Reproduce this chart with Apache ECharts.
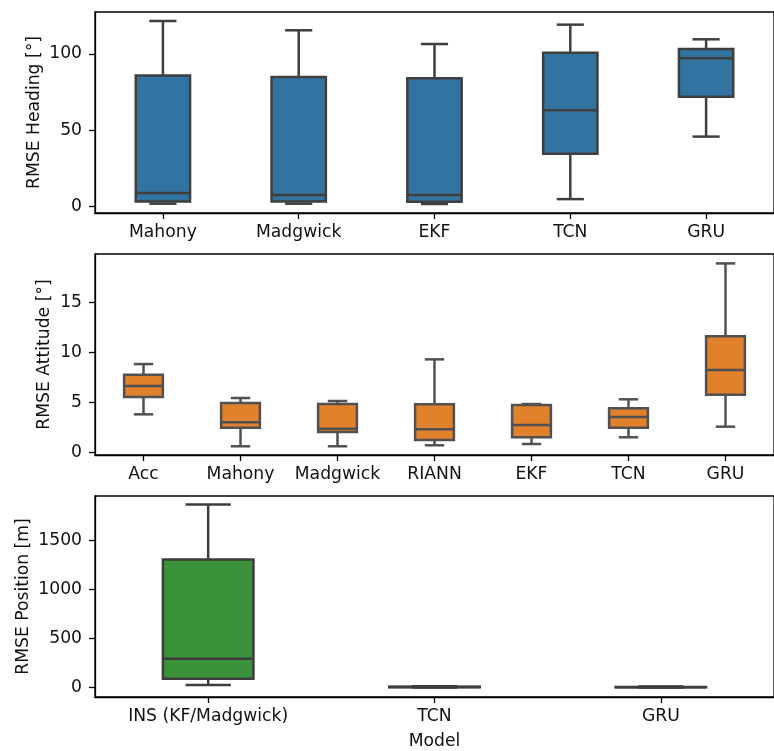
<!DOCTYPE html>
<html>
<head>
<meta charset="utf-8">
<script src="https://cdn.jsdelivr.net/npm/echarts@6/dist/echarts.min.js"></script>
<style>
  html, body { margin: 0; padding: 0; background: #fff; }
  #chart { width: 774px; height: 751px; }
</style>
</head>
<body>
<div id="chart"></div>
<script>
// Box statistics per model: [lower whisker, Q1, median, Q3, upper whisker]
const headingModels = ['Mahony', 'Madgwick', 'EKF', 'TCN', 'GRU'];
const headingBoxes = [
  [1.8, 3.3, 8.8, 85.8, 121.6],
  [1.8, 3.3, 7.5, 84.9, 115.5],
  [1.6, 3.1, 7.5, 84.1, 106.5],
  [4.8, 34.5, 63.1, 100.8, 119.2],
  [45.8, 72.0, 97.2, 103.3, 109.6]
];
const headingTicks = [0, 50, 100];

const attitudeModels = ['Acc', 'Mahony', 'Madgwick', 'RIANN', 'EKF', 'TCN', 'GRU'];
const attitudeBoxes = [
  [3.79, 5.52, 6.62, 7.75, 8.81],
  [0.60, 2.46, 2.99, 4.92, 5.42],
  [0.60, 2.03, 2.36, 4.82, 5.12],
  [0.70, 1.23, 2.30, 4.79, 9.28],
  [0.83, 1.50, 2.72, 4.72, 4.82],
  [1.50, 2.46, 3.52, 4.39, 5.29],
  [2.56, 5.75, 8.21, 11.58, 18.86]
];
const attitudeTicks = [0, 5, 10, 15];

const positionModels = ['INS (KF/Madgwick)', 'TCN', 'GRU'];
const positionBoxes = [
  [27, 91, 295, 1305, 1864],
  [2, 4, 6, 9, 14],
  [2, 4, 5, 8, 13]
];
const positionTicks = [0, 500, 1000, 1500];

const FONT = 'DejaVu Sans';
const FS = 17.2;
const TEXT = '#111';

function boxRenderer(fill, stroke) {
  return function (params, api) {
    const cat = api.value(0);
    const band = api.size([1, 0])[0];
    const half = band * 0.4 / 2;
    const capHalf = half / 2;
    const pLow = api.coord([cat, api.value(1)]);
    const pQ1 = api.coord([cat, api.value(2)]);
    const pMed = api.coord([cat, api.value(3)]);
    const pQ3 = api.coord([cat, api.value(4)]);
    const pHigh = api.coord([cat, api.value(5)]);
    const x = pQ1[0];
    const lw = 2.5;
    const ls = { stroke: stroke, lineWidth: lw, fill: null };
    return {
      type: 'group',
      children: [
        { type: 'line', shape: { x1: x, y1: pQ1[1], x2: x, y2: pLow[1] }, style: ls },
        { type: 'line', shape: { x1: x, y1: pQ3[1], x2: x, y2: pHigh[1] }, style: ls },
        { type: 'line', shape: { x1: x - capHalf, y1: pLow[1], x2: x + capHalf, y2: pLow[1] }, style: ls },
        { type: 'line', shape: { x1: x - capHalf, y1: pHigh[1], x2: x + capHalf, y2: pHigh[1] }, style: ls },
        {
          type: 'rect',
          shape: { x: x - half, y: pQ3[1], width: half * 2, height: pQ1[1] - pQ3[1] },
          style: { fill: fill, stroke: stroke, lineWidth: lw }
        },
        { type: 'line', shape: { x1: x - half, y1: pMed[1], x2: x + half, y2: pMed[1] }, style: ls }
      ]
    };
  };
}

function toData(boxes) {
  return boxes.map((b, i) => [i].concat(b));
}

const gridCommon = { left: 95, width: 690, show: true, borderColor: '#000', borderWidth: 1.3, backgroundColor: 'transparent' };

function xAxisFor(idx, models, withName) {
  const ax = {
    type: 'category',
    gridIndex: idx,
    data: models,
    boundaryGap: true,
    axisLine: { show: true, onZero: false, lineStyle: { color: '#000', width: 1.3 } },
    axisTick: { show: true, alignWithLabel: true, length: 6, lineStyle: { color: '#000', width: 1.3 } },
    axisLabel: { fontFamily: FONT, fontSize: FS, color: TEXT, margin: 11, interval: 0 },
    splitLine: { show: false }
  };
  if (withName) {
    ax.name = 'Model';
    ax.nameLocation = 'middle';
    ax.nameGap = 36;
    ax.nameMoveOverlap = false;
    ax.nameTextStyle = { fontFamily: FONT, fontSize: FS, color: TEXT };
  }
  return ax;
}

function yAxisFor(idx, name, min, max, ticks, gap) {
  return {
    type: 'value',
    gridIndex: idx,
    min: min,
    max: max,
    name: name,
    nameLocation: 'middle',
    nameGap: gap,
    nameMoveOverlap: false,
    nameTextStyle: { fontFamily: FONT, fontSize: FS, color: TEXT },
    axisLine: { show: true, onZero: false, lineStyle: { color: '#000', width: 1.3 } },
    axisTick: { show: true, length: 6, customValues: ticks, lineStyle: { color: '#000', width: 1.3 } },
    axisLabel: {
      fontFamily: FONT, fontSize: FS, color: TEXT, margin: 13, customValues: ticks,
      formatter: (v) => String(v)
    },
    splitLine: { show: false }
  };
}

const option = {
  animation: false,
  backgroundColor: '#fff',
  grid: [
    Object.assign({ top: 12, height: 201 }, gridCommon),
    Object.assign({ top: 254, height: 201 }, gridCommon),
    Object.assign({ top: 496, height: 201 }, gridCommon)
  ],
  xAxis: [
    xAxisFor(0, headingModels, false),
    xAxisFor(1, attitudeModels, false),
    xAxisFor(2, positionModels, true)
  ],
  yAxis: [
    yAxisFor(0, 'RMSE Heading [°]', -4.3, 127.5, headingTicks, 52),
    yAxisFor(1, 'RMSE Attitude [°]', -0.27, 19.8, attitudeTicks, 42),
    yAxisFor(2, 'RMSE Position [m]', -94.5, 1951, positionTicks, 63)
  ],
  series: [
    {
      type: 'custom', xAxisIndex: 0, yAxisIndex: 0,
      renderItem: boxRenderer('#3274a1', '#3f3f3f'),
      encode: { x: 0, y: [1, 2, 3, 4, 5] },
      data: toData(headingBoxes)
    },
    {
      type: 'custom', xAxisIndex: 1, yAxisIndex: 1,
      renderItem: boxRenderer('#e1812c', '#515151'),
      encode: { x: 0, y: [1, 2, 3, 4, 5] },
      data: toData(attitudeBoxes)
    },
    {
      type: 'custom', xAxisIndex: 2, yAxisIndex: 2,
      renderItem: boxRenderer('#3a923a', '#3d3d3d'),
      encode: { x: 0, y: [1, 2, 3, 4, 5] },
      data: toData(positionBoxes)
    }
  ]
};

const chart = echarts.init(document.getElementById('chart'), null, { renderer: 'canvas' });
chart.setOption(option);
</script>
</body>
</html>
